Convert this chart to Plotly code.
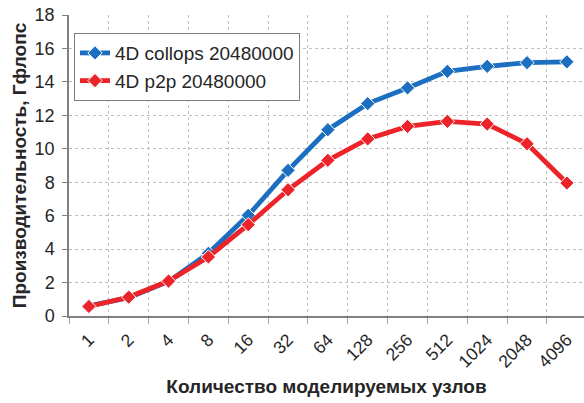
import plotly.graph_objects as go

nodes = ["1", "2", "4", "8", "16", "32", "64", "128", "256", "512", "1024", "2048", "4096"]
collops = [0.6, 1.1, 2.07, 3.75, 6.02, 8.71, 11.14, 12.70, 13.64, 14.63, 14.93, 15.15, 15.2]
p2p = [0.57, 1.13, 2.09, 3.53, 5.46, 7.55, 9.31, 10.59, 11.34, 11.64, 11.48, 10.30, 7.95]

name_collops = "4D collops 20480000"
name_p2p = "4D p2p 20480000"
x_title = "Количество моделируемых узлов"
y_title = "Производительность, Гфлопс"

BLUE = "#1C6FC0"
RED = "#EC2429"
FONT = "Liberation Sans, Arial, sans-serif"

fig = go.Figure()
fig.add_trace(go.Scatter(
    x=nodes, y=collops, name=name_collops, mode="lines+markers",
    line=dict(color=BLUE, width=4.8),
    marker=dict(symbol="diamond", size=11, color=BLUE, line=dict(color="white", width=1)),
))
fig.add_trace(go.Scatter(
    x=nodes, y=p2p, name=name_p2p, mode="lines+markers",
    line=dict(color=RED, width=4.8),
    marker=dict(symbol="diamond", size=11, color=RED, line=dict(color="white", width=1)),
))

fig.update_layout(
    width=584, height=403,
    margin=dict(l=69, r=0, t=15, b=87, autoexpand=False),
    paper_bgcolor="white", plot_bgcolor="white",
    font=dict(family=FONT, color="#262626"),
    showlegend=True,
    legend=dict(
        x=0.0097, y=0.94, xanchor="left", yanchor="top",
        bgcolor="white", bordercolor="#7F7F7F", borderwidth=1,
        font=dict(size=19, color="#262626"),
        itemwidth=30, tracegroupgap=0,
    ),
)

fig.update_xaxes(
    type="category", range=[-0.5, 12.43],
    tickson="boundaries", ticks="outside", ticklen=6, tickcolor="#A6A6A6",
    showgrid=True, gridcolor="#BFBFBF", griddash="dot", gridwidth=1,
    showline=True, linecolor="#808080", linewidth=1.5,
    tickangle=-45, tickfont=dict(size=17.5, color="#262626"),
    ticklabelstandoff=5,
    title=dict(text="<b>" + x_title + "</b>", font=dict(size=19, color="#262626", family=FONT), standoff=9),
    automargin=False,
)
fig.update_yaxes(
    range=[0, 18], dtick=2, tick0=0,
    ticks="outside", ticklen=5, tickcolor="#808080",
    showgrid=True, gridcolor="#BFBFBF", griddash="dot", gridwidth=1,
    showline=True, linecolor="#808080", linewidth=1.5,
    zeroline=False,
    tickfont=dict(size=18, color="#262626"),
    ticklabelstandoff=4,
    title=dict(text="<b>" + y_title + "</b>", font=dict(size=19, color="#262626", family=FONT), standoff=3),
    automargin=False,
)

fig.write_html(
    "out.html",
    config={"displayModeBar": False},
    post_script="document.body.style.margin='0';document.body.style.overflow='hidden';",
)
